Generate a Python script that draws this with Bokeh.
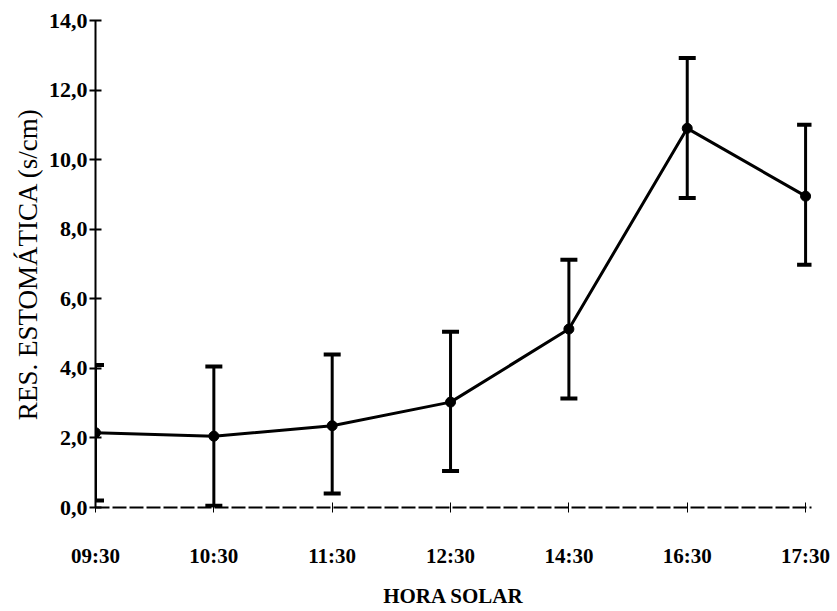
from bokeh.plotting import figure
from bokeh.models import Range1d, FixedTicker
from bokeh.embed import file_html
from bokeh.resources import INLINE

categories = ["09:30", "10:30", "11:30", "12:30", "14:30", "16:30", "17:30"]
resistance = [2.15, 2.05, 2.35, 3.03, 5.13, 10.9, 8.95]
err_low = [0.2, 0.05, 0.4, 1.05, 3.13, 8.9, 6.98]
err_high = [4.1, 4.05, 4.4, 5.05, 7.12, 12.92, 11.0]
y_ticks = [0, 2, 4, 6, 8, 10, 12, 14]
y_tick_labels = ["0,0", "2,0", "4,0", "6,0", "8,0", "10,0", "12,0", "14,0"]

xs = list(range(len(categories)))

p = figure(width=837, height=611, output_backend="svg", toolbar_location=None,
           frame_width=716, frame_height=487,
           x_range=Range1d(0, 6.05), y_range=Range1d(0, 14))
p.min_border_left = 95
p.min_border_top = 20
p.min_border_bottom = 104
p.min_border_right = 26
p.outline_line_color = None
p.xgrid.visible = False
p.ygrid.visible = False
p.background_fill_color = "white"

FONT = "Liberation Serif"

# error bars
p.segment(x0=xs, y0=err_low, x1=xs, y1=err_high, line_color="black", line_width=3)
p.scatter(x=xs, y=err_low, marker="dash", size=17, line_color="black", line_width=4)
p.scatter(x=xs, y=err_high, marker="dash", size=17, line_color="black", line_width=4)

# line and points
p.line(x=xs, y=resistance, line_color="black", line_width=3)
p.scatter(x=xs, y=resistance, marker="circle", size=10, fill_color="black", line_color="black")

# y axis
p.yaxis.ticker = FixedTicker(ticks=y_ticks)
p.yaxis.major_label_overrides = {t: l for t, l in zip(y_ticks, y_tick_labels)}
p.yaxis.minor_tick_line_color = None
p.yaxis.major_tick_in = 6
p.yaxis.major_tick_out = 6
p.yaxis.axis_line_width = 2
p.yaxis.axis_line_color = "black"
p.yaxis.major_tick_line_color = "black"
p.yaxis.major_tick_line_width = 2
p.yaxis.major_label_text_color = "black"
p.yaxis.major_label_text_font = FONT
p.yaxis.major_label_text_font_style = "bold"
p.yaxis.major_label_text_font_size = "22px"
p.yaxis.major_label_standoff = 2
p.yaxis.axis_label = "RES. ESTOMÁTICA (s/cm)"
p.yaxis.axis_label_text_color = "black"
p.yaxis.axis_label_text_font = FONT
p.yaxis.axis_label_text_font_style = "normal"
p.yaxis.axis_label_text_font_size = "27px"
p.yaxis.axis_label_standoff = 3

# x axis
p.xaxis.ticker = FixedTicker(ticks=xs)
p.xaxis.major_label_overrides = {x: c for x, c in zip(xs, categories)}
p.xaxis.minor_tick_line_color = None
p.xaxis.major_tick_in = 5
p.xaxis.major_tick_out = 5
p.xaxis.axis_line_width = 2
p.xaxis.axis_line_color = "black"
p.xaxis.major_tick_line_color = "black"
p.xaxis.axis_line_dash = "14 3"
p.xaxis.major_label_text_color = "black"
p.xaxis.major_label_text_font = FONT
p.xaxis.major_label_text_font_style = "bold"
p.xaxis.major_label_text_font_size = "21px"
p.xaxis.major_label_standoff = 31
p.xaxis.axis_label = "HORA SOLAR"
p.xaxis.axis_label_text_color = "black"
p.xaxis.axis_label_text_font = FONT
p.xaxis.axis_label_text_font_style = "bold"
p.xaxis.axis_label_text_font_size = "21px"
p.xaxis.axis_label_standoff = 13

open("out.html", "w").write(file_html(p, INLINE))
